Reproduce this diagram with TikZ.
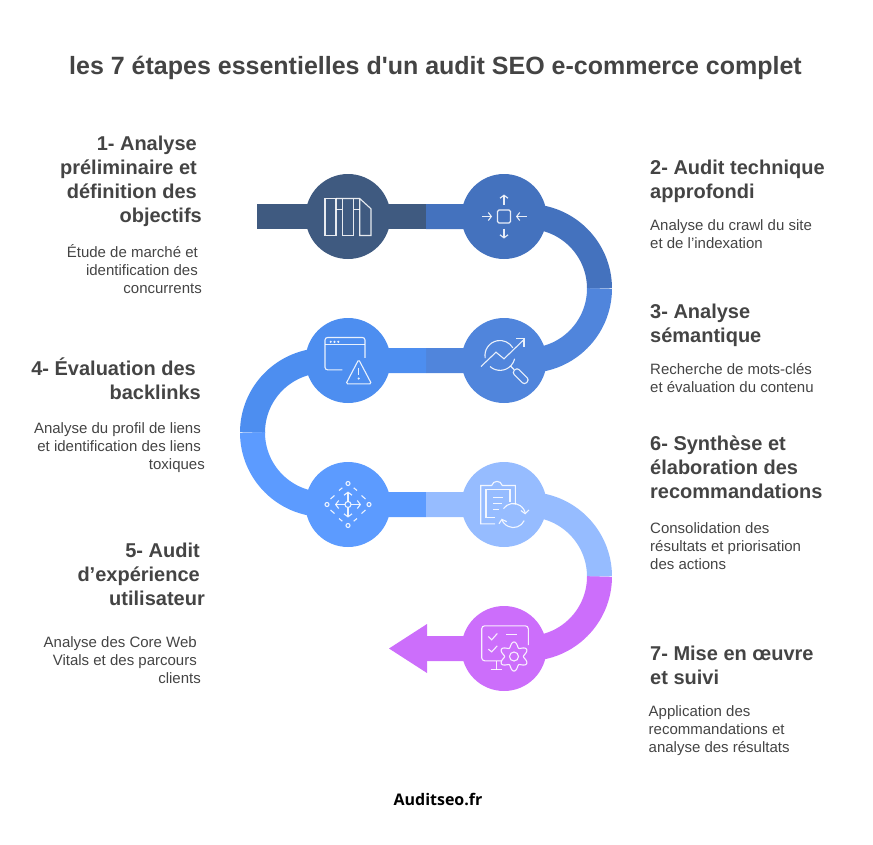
\documentclass[tikz,border=0pt]{standalone}
\usepackage{fontspec}
\setmainfont{Liberation Sans}[Ligatures=TeXOff]
\newfontfamily\logofont{Open Sans}
\usetikzlibrary{positioning,calc,backgrounds,arrows.meta}
\definecolor{StepOne}{RGB}{63,90,128}
\definecolor{StepTwo}{RGB}{68,114,190}
\definecolor{StepThree}{RGB}{80,133,220}
\definecolor{StepFour}{RGB}{77,142,240}
\definecolor{StepFive}{RGB}{92,155,255}
\definecolor{StepSix}{RGB}{150,188,255}
\definecolor{StepSeven}{RGB}{204,110,251}
\definecolor{TextGrey}{RGB}{68,68,68}

\begin{document}
\begin{tikzpicture}[
                x=1pt, y=1pt,
                % Styles de la frise
                band/.style={line width=25pt},
                stepdot/.style={circle, minimum size=85pt, inner sep=0pt},
                icon/.style={draw=white, draw opacity=0.88, line width=1.1pt},
                headL/.style={anchor=north east, align=right, inner sep=0pt, text=TextGrey, font=\fontsize{20}{24}\selectfont\bfseries},
                headR/.style={anchor=north west, align=left, inner sep=0pt, text=TextGrey, font=\fontsize{20}{24}\selectfont\bfseries},
                bodyL/.style={anchor=north east, align=right, inner sep=0pt, text=TextGrey, font=\fontsize{15}{18}\selectfont},
                bodyR/.style={anchor=north west, align=left, inner sep=0pt, text=TextGrey, font=\fontsize{15}{18}\selectfont},
                % Icones
                planicon/.pic={
                    \draw[icon] (-23,18) rectangle (-12,-19);
                    \draw[icon] (-5.7,18) -- (-5.7,-19) -- (5.7,-19) -- (5.7,18);
                    \draw[icon] (-12,18) -- (11.7,18) -- (23,7.7) -- (23,-19) -- (11.7,-19) -- (11.7,18);
                    \draw[icon] (-12,6.7) -- (-5.7,6.7);
                    \draw[icon] (5.7,6.7) -- (11.7,6.7);
                },
                focusicon/.pic={
                    \draw[icon, rounded corners=1.5pt] (-6.5,-6.5) rectangle (6.5,6.5);
                    \draw[icon, -{Straight Barb[length=3pt,width=8pt]}] (0,12) -- (0,22);
                    \draw[icon, -{Straight Barb[length=3pt,width=8pt]}] (0,-12) -- (0,-22);
                    \draw[icon, -{Straight Barb[length=3pt,width=8pt]}] (-22,0) -- (-12,0);
                    \draw[icon, -{Straight Barb[length=3pt,width=8pt]}] (22.5,0) -- (12,0);
                },
                trendicon/.pic={
                    \draw[icon] (-18.8,2.4) arc[start angle=190,end angle=31,radius=15];
                    \draw[icon] (-14,-6) arc[start angle=228,end angle=347,radius=15];
                    \draw[icon] (-23,-6) -- (-8,8.3) -- (0,1.7) -- (19,20);
                    \draw[icon] (12,21.7) -- (20,21.7) -- (20,14);
                    \draw[icon] (6.5,-5.5) -- (10,-9);
                    \draw[icon, rotate around={-45:(16.7,-15.7)}, rounded corners=3pt] (8,-19.2) rectangle (25.4,-12.2);
                },
                alerticon/.pic={
                    \draw[icon, rounded corners=2.5pt] (17,2.7) -- (17,23) -- (-23,23) -- (-23,-9.3) -- (-5.7,-9.3);
                    \draw[icon] (-23,16) -- (17,16);
                    \foreach \dotx in {-17.3,-13.5,-9.7}
                        \fill[white, fill opacity=0.88] (\dotx,18.7) circle (1.2pt);
                    \draw[icon, rounded corners=1.5pt] (10.7,1) -- (23.5,-23.3) -- (-2,-23.3) -- cycle;
                    \draw[icon] (10.7,-7.3) -- (10.7,-14);
                    \fill[white, fill opacity=0.88] (10.7,-18) circle (1.2pt);
                },
                moveicon/.pic={
                    \draw[icon] (0,0) circle (3);
                    \draw[icon, -{Straight Barb[length=3pt,width=8pt]}] (0,3) -- (0,13);
                    \draw[icon, -{Straight Barb[length=3pt,width=8pt]}] (0,-3) -- (0,-13);
                    \draw[icon, -{Straight Barb[length=3pt,width=8pt]}] (-3,0) -- (-13,0);
                    \draw[icon, -{Straight Barb[length=3pt,width=8pt]}] (3,0) -- (13,0);
                    \draw[icon] (0,21) circle (2) (0,-21) circle (2) (-21,0) circle (2) (21,0) circle (2);
                    \foreach \sx/\sy in {1/1,-1/1,1/-1,-1/-1}{
                        \draw[icon] (\sx*5.7,\sy*16.7) -- (\sx*9,\sy*14);
                        \draw[icon] (\sx*13.5,\sy*9) -- (\sx*17.5,\sy*5.5);
                    }
                },
                reporticon/.pic={
                    \draw[icon] (-9,-19.3) -- (-23.3,-19.3) -- (-23.3,19) -- (-12.3,19) .. controls (-11,24.5) and (-3,24.5) .. (-1.7,19) -- (11.3,19) -- (11.3,0);
                    \draw[icon] (-9,-13.3) -- (-18,-13.3) -- (-18,15) -- (6,15) -- (6,2.7);
                    \draw[icon] (-10.7,7) -- (-0.7,7);
                    \draw[icon] (-10.7,1) -- (-2.3,1);
                    \draw[icon] (-10.7,-4.7) -- (-4.7,-4.7);
                    \draw[icon, -{Straight Barb[length=3.5pt,width=8pt]}] (-0.5,-4.1) arc[start angle=145,end angle=5,radius=12];
                    \draw[icon, -{Straight Barb[length=3.5pt,width=8pt]}] (20.2,-16.1) arc[start angle=-25,end angle=-165,radius=12];
                },
                gearicon/.pic={
                    \draw[icon, rounded corners=3pt] (24.3,3.3) -- (24.3,22.7) -- (-22.3,22.7) -- (-22.3,-12.3) -- (-3,-12.3);
                    \draw[icon] (-7.3,-12.3) -- (-7.3,-21.3);
                    \draw[icon] (-13.3,-21.3) -- (-2.3,-21.3);
                    \draw[icon] (-15.7,12) -- (-12.3,8.7) -- (-6.7,15);
                    \draw[icon] (-15.7,-0.7) -- (-12.3,-3.3) -- (-6.7,2.7);
                    \draw[icon] (2,13.7) -- (13.3,13.7);
                    \draw[icon] (10,-8) circle (4.5);
                    \draw[icon] plot[smooth cycle, domain=0:354, samples=60]
                        ({10+(12+2.6*cos(6*\x))*cos(\x+90)},{-8+(12+2.6*cos(6*\x))*sin(\x+90)});
                }
            ]
                \useasboundingbox (0,0) rectangle (873,-844);

                % Titre
                \node[inner sep=0pt, text=TextGrey, font=\fontsize{25}{30}\selectfont\bfseries] (title) at (435.5,-67.5) {les 7 étapes essentielles d'un audit SEO e-commerce complet};

                % Cercles
                \node[stepdot, fill=StepOne] (S1) at (348,-216.5) {};
                \node[stepdot, fill=StepTwo] (S2) at (504,-216.5) {};
                \node[stepdot, fill=StepThree] (S3) at (504,-360.5) {};
                \node[stepdot, fill=StepFour] (S4) at (348,-360.5) {};
                \node[stepdot, fill=StepFive] (S5) at (348,-504.5) {};
                \node[stepdot, fill=StepSix] (S6) at (504,-504.5) {};
                \node[stepdot, fill=StepSeven] (S7) at (504,-648.5) {};

                \coordinate (start) at (257,-216.5);
                \coordinate (mid12) at (426,-216.5);
                \coordinate (mid34) at (426,-360.5);
                \coordinate (mid56) at (426,-504.5);
                \coordinate (tail) at (427,-648.5);

                % Ruban
                \begin{scope}[on background layer]
                    \draw[band, StepOne] (start) -- (mid12);
                    \draw[band, StepTwo] (mid12) -- (S2.center) -- ++(23.5,0) arc[start angle=90,end angle=0,radius=72] coordinate (bend23);
                    \draw[band, StepThree] (bend23) arc[start angle=0,end angle=-90,radius=72] -- (S3.center) -- (mid34);
                    \draw[band, StepFour] (mid34) -- (S4.center) -- ++(-23.5,0) arc[start angle=90,end angle=180,radius=72] coordinate (bend45);
                    \draw[band, StepFive] (bend45) arc[start angle=180,end angle=270,radius=72] -- (S5.center) -- (mid56);
                    \draw[band, StepSix] (mid56) -- (S6.center) -- ++(23.5,0) arc[start angle=90,end angle=0,radius=72] coordinate (bend67);
                    \draw[band, StepSeven] (bend67) arc[start angle=0,end angle=-90,radius=72] -- (S7.center) -- (tail);
                    \fill[StepSeven] (tail) ++(0,24.5) -- ++(-38,-24.5) -- ++(38,-24.5) -- cycle;
                \end{scope}

                % Icones
                \path (S1) pic {planicon};
                \path (S2) pic {focusicon};
                \path (S3) pic {trendicon};
                \path (S4) pic {alerticon};
                \path (S5) pic {moveicon};
                \path (S6) pic {reporticon};
                \path (S7) pic {gearicon};

                % Textes gauche
                \node[headL] (h1) at (202,-136) {1- Analyse\kern5pt\\préliminaire et\kern5pt\\définition des\kern5pt\\objectifs};
                \node[bodyL] (b1) at (202,-244) {Étude de marché et\kern4pt\\identification des\kern4pt\\concurrents};
                \node[headL] (h4) at (201,-358) {4- Évaluation des\kern5pt\\backlinks};
                \node[bodyL] (b4) at (205,-422) {Analyse du profil de liens\kern4pt\\et identification des liens\kern4pt\\toxiques};
                \node[headL] (h5) at (205,-543) {5- Audit\kern5pt\\d’expérience\kern5pt\\utilisateur};
                \node[bodyL] (b5) at (201,-636) {Analyse des Core Web\kern4pt\\Vitals et des parcours\kern4pt\\clients};

                % Textes droite
                \node[headR] (h2) at (650,-160) {2- Audit technique\\approfondi};
                \node[bodyR] (b2) at (650,-219) {Analyse du crawl du site\\et de l’indexation};
                \node[headR] (h3) at (650,-304) {3- Analyse\\sémantique};
                \node[bodyR] (b3) at (650,-363) {Recherche de mots-clés\\et évaluation du contenu};
                \node[headR] (h6) at (650,-436) {6- Synthèse et\\élaboration des\\recommandations};
                \node[bodyR] (b6) at (650,-522) {Consolidation des\\résultats et priorisation\\des actions};
                \node[headR] (h7) at (650,-646) {7- Mise en œuvre\\et suivi};
                \node[bodyR] (b7) at (648.5,-705) {Application des\\recommandations et\\analyse des résultats};

                % Signature
                \node[inner sep=0pt, font=\logofont\fontsize{16}{20}\selectfont\bfseries] (logo) at (438,-799) {Auditseo.fr};
            \end{tikzpicture}
\end{document}
